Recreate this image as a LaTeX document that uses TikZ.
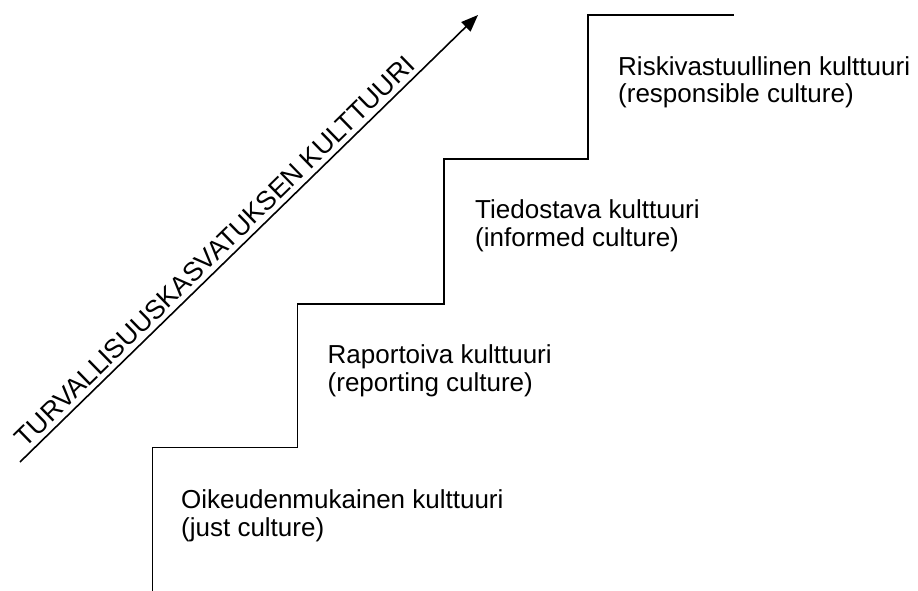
\documentclass[tikz,border=0pt]{standalone}
\usepackage{fontspec}
\setmainfont{Liberation Sans}
\usetikzlibrary{arrows.meta}
\begin{document}
\begin{tikzpicture}[x=1pt,y=-1pt,
  stair/.style={line width=1.8pt, line join=miter},
  growth/.style={line width=1.6pt, -{Triangle[length=17pt,width=13pt]}},
  steplabel/.style={anchor=base west, inner sep=0pt, align=left,
    font=\fontsize{26}{28}\selectfont},
  axislabel/.style={anchor=base west, inner sep=0pt, rotate=44.29,
    font=\fontsize{26.6}{28}\selectfont}]
  \useasboundingbox (0,0) rectangle (918,591);

  % staircase corners
  \coordinate (s0) at (152.5,591);
  \coordinate (s1) at (152.5,447.5);
  \coordinate (s2) at (297.5,447.5);
  \coordinate (s3) at (297.5,304);
  \coordinate (s4) at (444,304);
  \coordinate (s5) at (444,159);
  \coordinate (s6) at (588,159);
  \coordinate (s7) at (588,15);
  \coordinate (s8) at (734,15);
  \draw[stair] (s0) -- (s1) -- (s2) -- (s3) -- (s4) -- (s5) -- (s6) -- (s7) -- (s8);

  % rising arrow with its caption
  \coordinate (tail) at (20,462);
  \coordinate (tip) at (478,15);
  \draw[growth] (tail) -- (tip);
  \node[axislabel] (axis) at (25.5,448.5) {TURVALLISUUSKASVATUKSEN KULTTUURI};

  % labels on each step (anchored at the baseline of the second line)
  \node[steplabel] (just) at (181,536) {Oikeudenmukainen kulttuuri\\(just culture)};
  \node[steplabel] (report) at (327.5,391.5) {Raportoiva kulttuuri\\(reporting culture)};
  \node[steplabel] (inform) at (475,246.5) {Tiedostava kulttuuri\\(informed culture)};
  \node[steplabel] (respons) at (618,103) {Riskivastuullinen kulttuuri\\(responsible culture)};
\end{tikzpicture}
\end{document}
